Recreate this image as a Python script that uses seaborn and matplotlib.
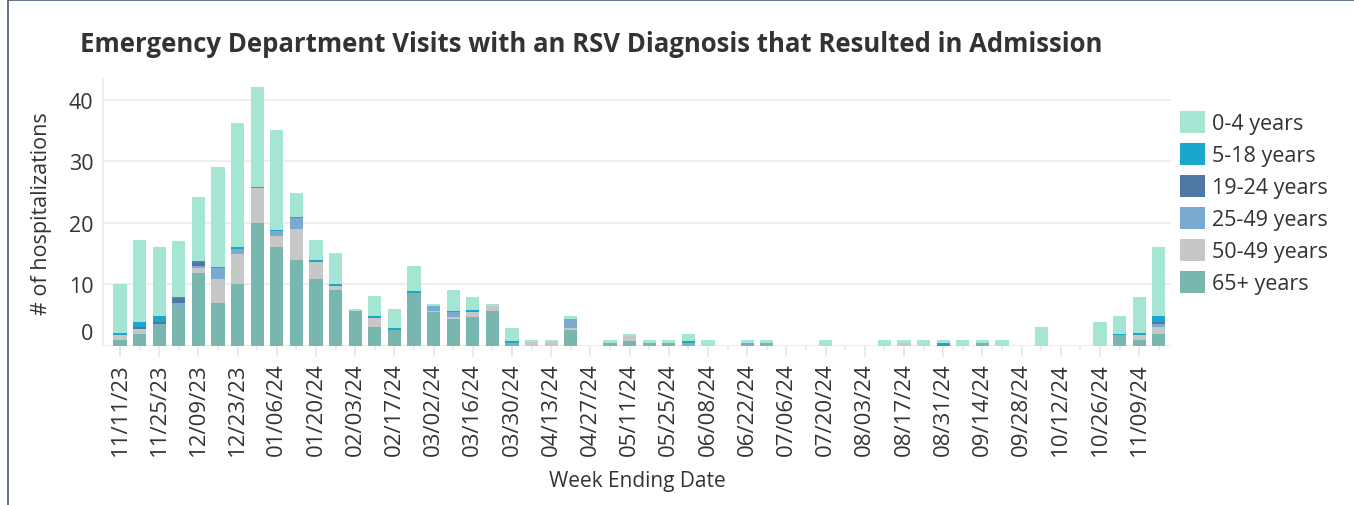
import numpy as np
import pandas as pd
import matplotlib
matplotlib.use("Agg")
import matplotlib.pyplot as plt
import seaborn as sns
from matplotlib.patches import Patch
from matplotlib.lines import Line2D
from matplotlib.transforms import ScaledTranslation

# ---------------- data ----------------
weeks = ["11/11/23", "11/18/23", "11/25/23", "12/02/23", "12/09/23", "12/16/23", "12/23/23", "12/30/23",
         "01/06/24", "01/13/24", "01/20/24", "01/27/24", "02/03/24", "02/10/24", "02/17/24", "02/24/24",
         "03/02/24", "03/09/24", "03/16/24", "03/23/24", "03/30/24", "04/06/24", "04/13/24", "04/20/24",
         "04/27/24", "05/04/24", "05/11/24", "05/18/24", "05/25/24", "06/01/24", "06/08/24", "06/15/24",
         "06/22/24", "06/29/24", "07/06/24", "07/13/24", "07/20/24", "07/27/24", "08/03/24", "08/10/24",
         "08/17/24", "08/24/24", "08/31/24", "09/07/24", "09/14/24", "09/21/24", "09/28/24", "10/05/24",
         "10/12/24", "10/19/24", "10/26/24", "11/02/24", "11/09/24", "11/16/24"]

age_groups = ["0-4 years", "5-18 years", "19-24 years", "25-49 years", "50-49 years", "65+ years"]

age_0_4 = [8.0, 13.4, 11.2, 9.1, 10.35, 16.3, 20.2, 16.3, 16.3, 3.9, 3.3, 5.0, 0.3, 3.3, 3.1, 4.0,
           0.3, 3.3, 2.1, 0.3, 2.1, 0.4, 0.4, 0.5, 0, 0.5, 0.3, 0.5, 0.5, 1.1, 1.0, 0,
           0.5, 0.5, 0, 0, 1.0, 0, 0, 1.0, 0.5, 1.0, 0.5, 1.0, 0.5, 1.0, 0, 3.0,
           0, 0, 3.8, 2.9, 6.0, 11.2]
age_5_18 = [0.2, 0.8, 1.0, 0.2, 0.3, 0.2, 0.3, 0.2, 0.2, 0.2, 0.3, 0.3, 0, 0.3, 0.3, 0.3,
            0, 0.2, 0.3, 0, 0.3, 0, 0, 0, 0, 0, 0, 0, 0, 0.3, 0, 0,
            0, 0, 0, 0, 0, 0, 0, 0, 0, 0, 0.5, 0, 0, 0, 0, 0,
            0, 0, 0, 0.2, 0.3, 1.0]
age_19_24 = [0, 0.3, 0.3, 0.8, 0.65, 0, 0, 0, 0, 0, 0, 0, 0, 0, 0, 0,
             0, 0, 0, 0, 0, 0, 0, 0, 0, 0, 0, 0, 0, 0, 0, 0,
             0, 0, 0, 0, 0, 0, 0, 0, 0, 0, 0, 0, 0, 0, 0, 0,
             0, 0, 0, 0, 0, 0.3]
age_25_49 = [0, 0, 0, 0.3, 0.3, 1.8, 0.8, 0, 0.8, 1.8, 0, 0, 0, 0, 0, 0,
             0.8, 0.8, 0, 0, 0, 0, 0, 1.5, 0, 0, 0, 0, 0, 0, 0, 0,
             0.5, 0, 0, 0, 0, 0, 0, 0, 0, 0, 0, 0, 0, 0, 0, 0,
             0, 0, 0, 0, 0, 0.5]
age_50_64 = [0.9, 0.8, 0, 0, 0.8, 3.9, 4.9, 5.7, 1.8, 5.0, 2.8, 0.65, 0, 1.5, 0, 0,
             0.2, 0.3, 0.8, 0.8, 0, 0.6, 0.6, 0.3, 0, 0, 0.8, 0, 0, 0, 0, 0,
             0, 0, 0, 0, 0, 0, 0, 0, 0.5, 0, 0, 0, 0, 0, 0, 0,
             0, 0, 0, 0, 0.8, 1.1]
age_65_plus = [0.9, 1.9, 3.5, 6.6, 11.8, 6.9, 10.0, 19.9, 16.0, 13.9, 10.8, 9.05, 5.6, 3.0, 2.6, 8.6,
               5.5, 4.4, 4.7, 5.7, 0.5, 0, 0, 2.6, 0, 0.5, 0.8, 0.5, 0.5, 0.5, 0, 0,
               0, 0.5, 0, 0, 0, 0, 0, 0, 0, 0, 0, 0, 0.5, 0, 0, 0,
               0, 0, 0, 1.7, 0.9, 1.9]

colors = ["#a5e5d3", "#1aa7cb", "#4e78a5", "#7aaacf", "#c6c7c7", "#78b6b0"]

series = [age_0_4, age_5_18, age_19_24, age_25_49, age_50_64, age_65_plus]
rows = []
for grp, vals in zip(age_groups, series):
    for i, v in enumerate(vals):
        rows.append({"week": i, "age": grp, "value": v})
df = pd.DataFrame(rows)

# ---------------- figure ----------------
W, H = 1354, 506
sns.set_theme(style="white")
plt.rcParams["font.family"] = ["Open Sans", "DejaVu Sans"]
text_color = "#333333"

fig = plt.figure(figsize=(W / 100, H / 100), dpi=100)
ax = fig.add_axes([103 / W, (H - 346.7) / H, (1171 - 103) / W, (346.7 - 80) / H])

sns.histplot(data=df, x="week", weights="value", hue="age", hue_order=age_groups,
             multiple="stack", discrete=True, shrink=0.68, palette=colors,
             alpha=1, linewidth=0, legend=False, ax=ax)

step = 19.6
ax.set_xlim(-(120 - 103) / step, (1171 - 120) / step)
ax.set_ylim(0, (346.7 - 80) / 6.15)

# y axis
ax.set_yticks([0, 10, 20, 30, 40])
ax.set_yticklabels(["0", "10", "20", "30", "40"])
ax.tick_params(axis="y", length=0, pad=7, labelsize=15.5, labelcolor=text_color)
ax.yaxis.grid(True, color="#eeeeee", linewidth=1.6)
ax.set_axisbelow(True)
# shift the "0" label upward like the original
lbl0 = ax.get_yticklabels()[0]
lbl0.set_transform(lbl0.get_transform() + ScaledTranslation(0, 0.15, fig.dpi_scale_trans))

# x axis
major = list(range(0, len(weeks), 2))
minor = list(range(1, len(weeks), 2))
ax.set_xticks(major)
ax.set_xticklabels([weeks[i] for i in major], rotation=90, ha="center", va="top")
ax.set_xticks(minor, minor=True)
ax.tick_params(axis="x", which="major", length=8, width=1.2, color="#e6e6e6", pad=4,
               labelsize=16, labelcolor=text_color, bottom=True)
ax.tick_params(axis="x", which="minor", length=3, width=1.2, color="#e6e6e6", bottom=True)
ax.axhline(0, color="#e6e6e6", linewidth=1.5, zorder=0.5)

for s in ["top", "right", "bottom"]:
    ax.spines[s].set_visible(False)
ax.spines["left"].set_color("#ececec")
ax.spines["left"].set_linewidth(1.2)

ax.set_xlabel("Week Ending Date", fontsize=15, color=text_color, labelpad=11)
ax.set_ylabel("# of hospitalizations", fontsize=15.5, color=text_color, labelpad=12)

# legend
handles = [Patch(facecolor=c, edgecolor="none", label=l) for l, c in zip(age_groups, colors)]
ax.legend(handles=handles, loc="upper left", bbox_to_anchor=(1180 / W, 1 - 112 / H),
          bbox_transform=fig.transFigure, frameon=False, fontsize=15.5,
          handlelength=1.15, handleheight=1.2, handletextpad=0.35, labelspacing=0.4,
          borderpad=0, borderaxespad=0, labelcolor=text_color)

# title (fit to original width)
title = fig.text(80 / W, 1 - 45 / H,
                 "Emergency Department Visits with an RSV Diagnosis that Resulted in Admission",
                 fontsize=20, fontweight="bold", color="#333333", ha="left", va="center")
fig.canvas.draw()
bb = title.get_window_extent()
title.set_fontsize(20 * (1104 - 80) / bb.width)

# frame lines
frame_col = "#4a5a78"
fig.add_artist(Line2D([8 / W, 8 / W], [0, 1], transform=fig.transFigure, color=frame_col, linewidth=1.2))
fig.add_artist(Line2D([8 / W, 1], [1 - 1 / H, 1 - 1 / H], transform=fig.transFigure, color=frame_col, linewidth=1.2))

fig.savefig("out.png", dpi=100)
